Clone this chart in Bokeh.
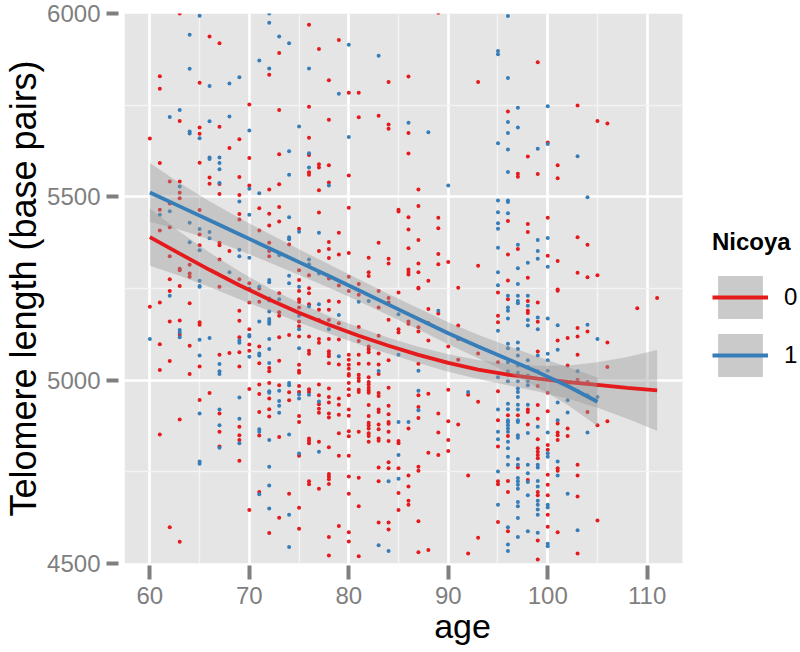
from bokeh.plotting import figure
from bokeh.models import Range1d, FixedTicker, Legend, LegendItem
from bokeh.embed import file_html
from bokeh.resources import INLINE

# ---------------- data ----------------
# telomere length of individual subjects, grouped by age (Nicoya = 0, red)
red_by_age = {
    60: [5659, 5200],
    61: [5829, 5795, 5592, 5465, 5408, 5212, 5098, 5028, 4852],
    62: [5542, 5482, 5417, 5338, 5275, 5243, 5160, 5052, 4599],
    63: [6000, 5707, 5542, 5511, 5496, 5304, 5300, 5257, 5163, 5124, 4893, 4559],
    64: [5315, 5291, 5282, 5210, 5094, 5017],
    65: [5811, 5689, 5672, 5593, 5464, 5397, 5368, 5158, 5151, 5037, 4946],
    66: [5937, 5553, 5536, 4965],
    67: [5919, 5691, 5535, 5508, 5375, 5368, 5329, 5255, 5069, 4909, 4859, 4819],
    68: [5633, 5352, 5074],
    69: [5657, 5554, 5505, 5453, 5438, 5275, 5189, 5162, 5117, 5076, 5037, 4873, 4850, 4837, 4780],
    70: [5752, 5606, 5531, 5264, 5212, 5139, 5097, 5080, 4976, 4646],
    71: [5469, 5408, 5250, 5214, 5092, 5046, 4988, 4962, 4913, 4849, 4695],
    72: [5833, 5520, 5454, 5422, 5375, 5352, 5338, 5033, 5024, 4992, 4950, 4921, 4901, 4583],
    73: [5892, 5737, 5616, 5534, 5472, 5433, 5237, 5185, 5176, 5117, 5053, 4986, 4845, 4625],
    74: [5370, 5123, 4967, 4945, 4690],
    75: [5413, 5300, 5273, 5243, 5221, 5213, 5198, 5160, 5147, 5119, 5042, 5026, 5020, 4984, 4968,
         4902, 4886, 4794, 4652, 4595],
    76: [5969, 5746, 5661, 5614, 5567, 5560, 5286, 5251, 5237, 5207, 5119, 5080, 5072, 4975, 4968,
         4841, 4835, 4828, 4724, 4716],
    77: [5903, 5589, 5580, 5518, 5457, 5352, 5192, 5164, 5112, 5102, 4988, 4959, 4934, 4922, 4911,
         4832, 4704],
    78: [5818, 5710, 5586, 5539, 5377, 5358, 5333, 5277, 5216, 5192, 5164, 5112, 5079, 5072, 5065,
         5046, 4977, 4954, 4939, 4909, 4898, 4817, 4744, 4737, 4730, 4717, 4572, 4522],
    79: [5928, 5402, 5343, 5258, 5214, 5155, 5111, 5043, 4950, 4933, 4906, 4855, 4794, 4602],
    80: [5784, 5558, 5470, 5347, 5282, 5243, 5069, 5056, 5042, 5031, 5017, 5012, 4992, 4975, 4959,
         4920, 4903, 4861, 4847, 4794, 4737, 4690, 4585, 4560],
    81: [5784, 5717, 5262, 5233, 5145, 5107, 5069, 5045, 5015, 5006, 4998, 4974, 4968, 4859, 4734,
         4656, 4520],
    82: [5334, 5294, 5284, 5092, 5084, 5076, 5045, 5008, 4995, 4988, 4979, 4972, 4966, 4932, 4902,
         4884, 4877, 4868, 4855, 4848, 4832],
    83: [5721, 5375, 5243, 5198, 5121, 5073, 5043, 5017, 4965, 4957, 4920, 4913, 4879, 4866, 4841,
         4835, 4762, 4724, 4612],
    84: [5813, 5697, 5686, 5331, 5318, 5224, 5212, 5165, 5054, 4979, 4930, 4907, 4886, 4881, 4859,
         4834, 4776, 4760, 4612, 4593],
    85: [5465, 5460, 5239, 5139, 5130, 4834, 4828, 4760, 4692, 4646],
    86: [5828, 5674, 5618, 5444, 5411, 5360, 5302, 5295, 5288, 5160, 5154, 4868, 4740, 4710, 4671, 4660],
    87: [5520, 5475, 5382, 5318, 5294, 5252, 5250, 5144, 5133, 5045, 4959, 4927, 4897, 4764, 4753,
         4615, 4531],
    88: [5271, 5194, 5156, 5108, 4963, 4802, 4537],
    89: [6002, 5443, 5414, 5344, 5316, 5182, 4909, 4857, 4796],
    90: [5322, 5092, 4974, 4888, 4837, 4807],
    91: [5252, 5149, 5112, 5056, 4879],
    92: [4960, 4740, 4527],
    93: [5813, 5312, 5073, 4941, 4570],
    95: [5239, 5176, 5158, 5049, 4970, 4891, 4819, 4724, 4716, 4613],
    96: [5733, 5434, 5343, 5272, 5221, 4904, 4848, 4725, 4695, 4588],
    97: [5563, 5555, 5358, 4904, 4762],
    98: [5610, 5426, 5404, 5279, 5216, 5189, 5183, 4920, 4913, 4879, 4728],
    99: [5867, 5562, 5212, 5159, 5078, 4984, 4932, 4895, 4839, 4814, 4805, 4796, 4787, 4695, 4686,
         4563, 4511],
    100: [5648, 5443, 5339, 4966, 4915, 4823, 4810, 4742, 4715, 4686, 4633, 4600],
    101: [5586, 5551, 5325, 5247, 5244, 5108, 4882, 4857, 4850, 4837, 4760, 4753, 4585],
    102: [5115, 5040, 4868, 4848],
    103: [5749, 5390, 5293, 5142, 5119, 5069, 5001, 4769, 4740, 4683, 4527],
    104: [5369, 5281, 5133, 4995, 4913],
    105: [5707, 5286, 4986, 4877, 4617],
    106: [5700, 5103, 5036, 4888],
    109: [5196],
    111: [5224],
}

# Nicoya = 1, blue
blue_by_age = {
    60: [5112],
    61: [5451],
    62: [5718, 5461, 5230],
    63: [5737, 5528, 5137, 5130, 5117],
    64: [5942, 5849, 5678, 5673, 5429, 5376],
    65: [5994, 5660, 5412, 5354, 5271, 5255, 5257, 5110, 5067, 4909, 4778, 4772],
    66: [5802, 5706, 5607, 5603, 5404, 5387, 5115],
    67: [5607, 5592, 5575, 5538, 5044, 5024, 5017, 4920, 4877, 4816],
    68: [5809, 5719, 5294],
    69: [5826, 5487, 5356, 5338, 5108, 5102, 4953, 4895, 4828],
    70: [5681, 5522, 5451, 5334, 5250, 5123, 5119, 5064],
    71: [5872, 5510, 5255, 5160, 5073, 5067, 4866, 4859, 4689],
    72: [6000, 5975, 5850, 5273, 5267, 5223, 5217, 5187, 5167, 5160, 5154, 5112, 5085, 5047, 4970,
         4966, 4837, 4764, 4713, 4650],
    73: [5937, 5341, 5221, 4971, 4943, 4930, 4911],
    74: [5919, 5624, 5560, 5444, 5390, 5384, 5285, 5264, 4992, 4986, 4852, 4633, 4545],
    75: [5692, 5405, 5255, 5176, 5139, 5087, 4961, 4950, 4800],
    76: [5850, 5619, 5580, 5329, 5316, 5201, 4960],
    77: [5402, 5291, 5207, 4942, 4805],
    78: [5531, 5139],
    79: [5781, 5178, 5065],
    80: [5915, 5663],
    81: [5214],
    82: [5216],
    83: [5885, 5025, 4550],
    84: [4724, 4534],
    85: [5180, 5069, 4886, 4796, 4731],
    86: [5702, 4886],
    87: [5026, 4971, 4918],
    88: [5676],
    89: [5189],
    90: [5531],
    92: [4968],
    95: [5898, 5889, 5646, 5490, 5458, 5428, 5413, 5361, 5294, 5259, 5135, 5008, 4920, 4859, 4839,
         4751, 4660],
    96: [5993, 5824, 5704, 5674, 5629, 5568, 5490, 5486, 5455, 5230, 5198, 5189, 5168, 5099, 5087,
         5049, 5024, 5015, 4997, 4936, 4921, 4891, 4885, 4877, 4868, 4859, 4832, 4814, 4791, 4769,
         4599, 4552, 4534],
    97: [5743, 5689, 5369, 5305, 5262, 5230, 5216, 5210, 5103, 5085, 5067, 5040, 5020, 4997, 4977,
         4968, 4954, 4933, 4920, 4891, 4886, 4850, 4843, 4785, 4769, 4733, 4724, 4715, 4704, 4668,
         4656, 4624, 4572],
    98: [5320, 5230, 5203, 5164, 5149, 5054, 5036, 5013, 4997, 4986, 4933, 4856, 4769, 4746, 4722,
         4686, 4588],
    99: [5631, 5382, 5352, 5331, 5171, 5139, 5067, 5024, 4873, 4769, 4762, 4725, 4710, 4671, 4660,
         4647, 4633, 4584],
    100: [5747, 5644, 5388, 5309, 5168, 5072, 5054, 5026, 4857, 4801, 4791, 4660, 4653, 4554, 4547],
    101: [5150, 5083, 4939, 4891, 4778, 4740],
    102: [4945, 4912, 4690],
    103: [5611, 5024, 4970, 4591],
    104: [5499, 5151, 4959, 4857],
    105: [5112, 4954],
}

# loess smooth (fit and half-width of the confidence band)
red_fit_age = [60, 63, 66, 69, 72, 75, 78, 81, 84, 87, 90, 93, 96, 99, 102, 105, 108, 111]
red_fit = [5390, 5345, 5301, 5259, 5220, 5184, 5151, 5121, 5094, 5069, 5047, 5029, 5015, 5004,
           4995, 4987, 4979, 4972]
red_se = [78, 60, 47, 38, 31, 27, 24, 23, 22, 22, 24, 26, 29, 35, 45, 62, 84, 110]

blue_fit_age = [60, 63, 66, 69, 72, 75, 78, 81, 84, 87, 90, 93, 96, 99, 102, 105]
blue_fit = [5512, 5474, 5436, 5398, 5360, 5322, 5284, 5245, 5206, 5167, 5128, 5092, 5057, 5022,
            4984, 4941]
blue_se = [80, 64, 52, 44, 39, 35, 32, 30, 29, 29, 30, 32, 36, 42, 52, 66]

x_limits = (57.45, 113.55)
y_limits = (4500, 6000)
x_ticks = [60, 70, 80, 90, 100, 110]
x_minor = [65, 75, 85, 95, 105]
y_ticks = [4500, 5000, 5500, 6000]
y_minor = [4750, 5250, 5750]
groups = ["0", "1"]

RED = "#E41A1C"
BLUE = "#377EB8"
FONT = "Liberation Sans"

# layout (pixels)
W, H = 800, 652
LEFT, RIGHT, TOP, BOTTOM = 124, 0, 13, 89
PANEL_W = 558                      # width of the grey panel
x_end = x_limits[0] + (x_limits[1] - x_limits[0]) * (W - LEFT - RIGHT) / PANEL_W


def flatten(d):
    xs, ys = [], []
    for age, vals in d.items():
        for v in vals:
            xs.append(age)
            ys.append(v)
    return xs, ys


rx, ry = flatten(red_by_age)
bx, by = flatten(blue_by_age)

p = figure(width=W, height=H, output_backend="svg", toolbar_location=None,
           x_range=Range1d(x_limits[0], x_end), y_range=Range1d(*y_limits),
           min_border_left=LEFT, min_border_right=RIGHT, min_border_top=TOP,
           min_border_bottom=BOTTOM)

p.background_fill_color = "white"
p.border_fill_color = "white"
p.outline_line_color = None

# grey panel
p.quad(left=[x_limits[0]], right=[x_limits[1]], bottom=[y_limits[0]], top=[y_limits[1]],
       fill_color="#E5E5E5", line_color=None, level="image")

# grid
p.xaxis.ticker = FixedTicker(ticks=x_ticks, minor_ticks=x_minor)
p.yaxis.ticker = FixedTicker(ticks=y_ticks, minor_ticks=y_minor)
for g in (p.xgrid, p.ygrid):
    g.grid_line_color = "white"
    g.grid_line_width = 2.6
    g.minor_grid_line_color = "#F4F4F4"
    g.minor_grid_line_width = 1.3
p.ygrid.cross_bounds = x_limits
p.xaxis.bounds = x_limits

# axes
for ax in (p.xaxis, p.yaxis):
    ax.axis_line_color = None
    ax.major_tick_line_color = "#7F7F7F"
    ax.major_tick_line_width = 4
    ax.minor_tick_line_color = None
    ax.major_label_text_color = "#7F7F7F"
    ax.major_label_text_font = FONT
    ax.major_label_text_font_size = "24px"
    ax.axis_label_text_font = FONT
    ax.axis_label_text_font_style = "normal"
    ax.axis_label_text_color = "black"

p.yaxis.major_tick_in = -6
p.yaxis.major_tick_out = 18
p.yaxis.major_label_standoff = 6
p.yaxis.axis_label_standoff = 0
p.yaxis.axis_label_text_font_size = "36px"
p.yaxis.axis_label = "Telomere length (base pairs)"

p.xaxis.major_tick_in = -2
p.xaxis.major_tick_out = 16
p.xaxis.major_label_standoff = 7
p.xaxis.axis_label_standoff = 0
p.xaxis.axis_label_text_font_size = "34px"
p.xaxis.axis_label = "age"

# points
p.scatter(rx, ry, size=4, fill_color=RED, line_color=None)
p.scatter(bx, by, size=4, fill_color=BLUE, line_color=None)

# smooths
red_lo = [f - s for f, s in zip(red_fit, red_se)]
red_hi = [f + s for f, s in zip(red_fit, red_se)]
blue_lo = [f - s for f, s in zip(blue_fit, blue_se)]
blue_hi = [f + s for f, s in zip(blue_fit, blue_se)]

p.varea(x=red_fit_age, y1=red_lo, y2=red_hi, fill_color="#999999", fill_alpha=0.4)
r_line = p.line(red_fit_age, red_fit, line_color=RED, line_width=3.8)
p.varea(x=blue_fit_age, y1=blue_lo, y2=blue_hi, fill_color="#999999", fill_alpha=0.4)
b_line = p.line(blue_fit_age, blue_fit, line_color=BLUE, line_width=3.8)

# legend keys: zero-height areas that only show up as the grey key squares
r_key = p.varea(x=red_fit_age, y1=red_fit, y2=red_fit, fill_color="#CACACA")
b_key = p.varea(x=blue_fit_age, y1=blue_fit, y2=blue_fit, fill_color="#CACACA")

legend = Legend(items=[LegendItem(label=groups[0], renderers=[r_key, r_line]),
                       LegendItem(label=groups[1], renderers=[b_key, b_line])],
                location=(588, 181), title="Nicoya",
                title_text_font=FONT, title_text_font_size="24px", title_text_font_style="bold",
                title_text_color="black", title_standoff=14,
                label_text_font=FONT, label_text_font_size="24px", label_text_color="black",
                glyph_width=56, glyph_height=54, spacing=4, label_standoff=16,
                padding=0, margin=0, border_line_color=None, background_fill_alpha=0)
p.add_layout(legend, "center")

open("out.html", "w").write(file_html(p, INLINE))
